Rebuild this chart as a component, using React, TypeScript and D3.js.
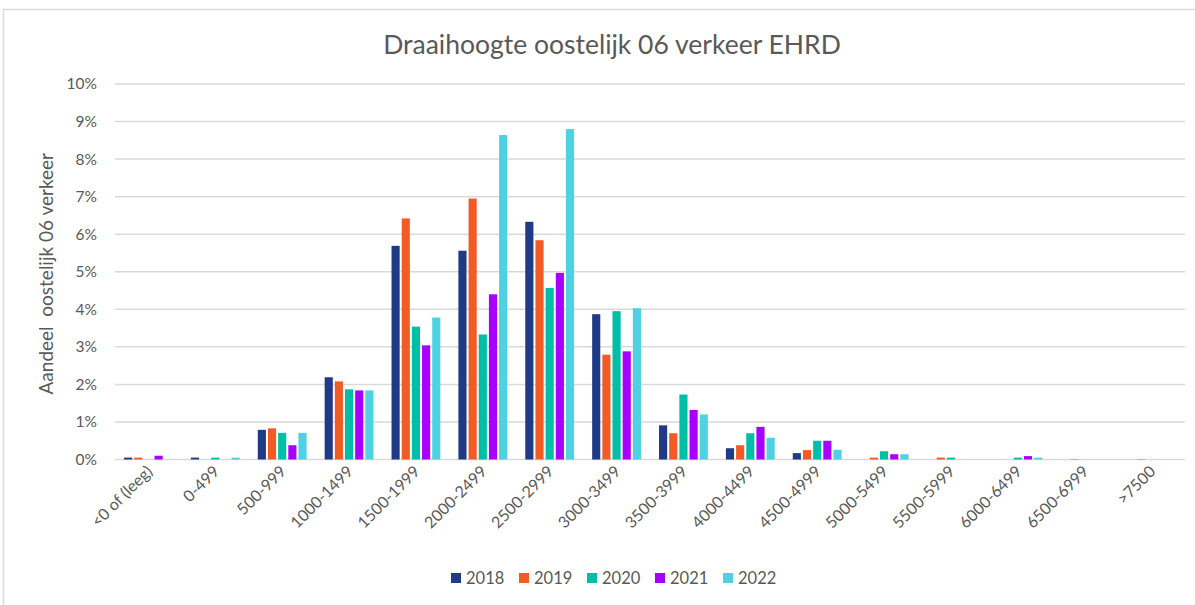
import React from 'react';
import * as d3 from 'd3';

// categories and series
const categories = [
  '<0 of (leeg)', '0-499', '500-999', '1000-1499', '1500-1999', '2000-2499',
  '2500-2999', '3000-3499', '3500-3999', '4000-4499', '4500-4999', '5000-5499',
  '5500-5999', '6000-6499', '6500-6999', '>7500',
];
const years = ['2018', '2019', '2020', '2021', '2022'];
const colors = ['#1F3B86', '#F25C24', '#00BFA6', '#A800FF', '#4ED2E3'];

// values in percent, per year
const v2018 = [0.05, 0.05, 0.79, 2.19, 5.69, 5.56, 6.33, 3.87, 0.91, 0.30, 0.17, 0, 0, 0, 0, 0];
const v2019 = [0.05, 0, 0.83, 2.08, 6.42, 6.95, 5.84, 2.79, 0.70, 0.38, 0.25, 0.05, 0.05, 0, 0.01, 0.01];
const v2020 = [0, 0.05, 0.71, 1.87, 3.54, 3.33, 4.57, 3.95, 1.73, 0.70, 0.50, 0.22, 0.05, 0.05, 0, 0];
const v2021 = [0.1, 0, 0.38, 1.84, 3.04, 4.40, 4.97, 2.88, 1.32, 0.87, 0.50, 0.14, 0, 0.09, 0, 0];
const v2022 = [0, 0.05, 0.71, 1.84, 3.78, 8.64, 8.80, 4.03, 1.20, 0.58, 0.26, 0.14, 0, 0.05, 0, 0];
const series = [v2018, v2019, v2020, v2021, v2022];

const yTicks = [0, 1, 2, 3, 4, 5, 6, 7, 8, 9, 10];

const W = 1195;
const H = 605;
const margin = { top: 84, right: 10, bottom: 145, left: 115 };
const font = 'Lato, "Open Sans", sans-serif';
const textColor = '#595959';

const App = () => {
  const x = d3.scaleBand()
    .domain(categories)
    .range([margin.left, W - margin.right])
    .paddingInner(0.27)
    .paddingOuter(0.135);

  const xi = d3.scaleBand()
    .domain(years)
    .range([0, x.bandwidth()])
    .paddingInner(0.2);

  const y = d3.scaleLinear()
    .domain([0, 10])
    .range([H - margin.bottom - 0.5, margin.top]);

  const legendStep = 68;
  const legendX0 = 451;

  return (
    <svg width={W} height={H} style={{ position: 'absolute', left: 0, top: 0, background: '#fff' }}>
      {/* chart frame */}
      <rect x={3.5} y={9.5} width={W + 10} height={H + 10} fill="#fff" stroke="#D9D9D9" strokeWidth={1.5} />

      {/* title */}
      <text x={612} y={54} textAnchor="middle" fontFamily={font} fontSize={26.5} fill={textColor}>
        Draaihoogte oostelijk 06 verkeer EHRD
      </text>

      {/* gridlines */}
      {yTicks.map(t => (
        <line key={t} x1={margin.left} x2={W - margin.right} y1={y(t)} y2={y(t)}
          stroke="#D9D9D9" strokeWidth={1.5} />
      ))}

      {/* y tick labels */}
      {yTicks.map(t => (
        <text key={t} x={97} y={y(t)} dy="0.35em" textAnchor="end" fontFamily={font} fontSize={15.5} fill={textColor}>
          {t}%
        </text>
      ))}

      {/* y axis title */}
      <text transform={`translate(53,${(y(0) + y(10)) / 2 + 2}) rotate(-90)`} textAnchor="middle"
        fontFamily={font} fontSize={19} fill={textColor} style={{ whiteSpace: 'pre' }}>
        {'Aandeel  oostelijk 06 verkeer'}
      </text>

      {/* bars */}
      {series.map((vals, si) => (
        <g key={years[si]} fill={colors[si]}>
          {vals.map((v, ci) => v > 0 && (
            <rect key={ci}
              x={(x(categories[ci]) as number) + (xi(years[si]) as number)}
              y={y(v)}
              width={xi.bandwidth()}
              height={y(0) - y(v)} />
          ))}
        </g>
      ))}

      {/* x labels */}
      {categories.map(c => {
        const cx = (x(c) as number) + x.bandwidth() / 2 + 5;
        return (
          <text key={c} transform={`translate(${cx},${y(0) + 13}) rotate(-45)`} textAnchor="end"
            fontFamily={font} fontSize={16} fill={textColor}>
            {c}
          </text>
        );
      })}

      {/* legend */}
      {years.map((yr, i) => (
        <g key={yr} transform={`translate(${legendX0 + i * legendStep},573)`}>
          <rect x={0} y={0} width={10} height={10} fill={colors[i]} />
          <text x={15} y={5} dy="0.35em" fontFamily={font} fontSize={16.5} fill={textColor}>{yr}</text>
        </g>
      ))}
    </svg>
  );
};

export default App;
